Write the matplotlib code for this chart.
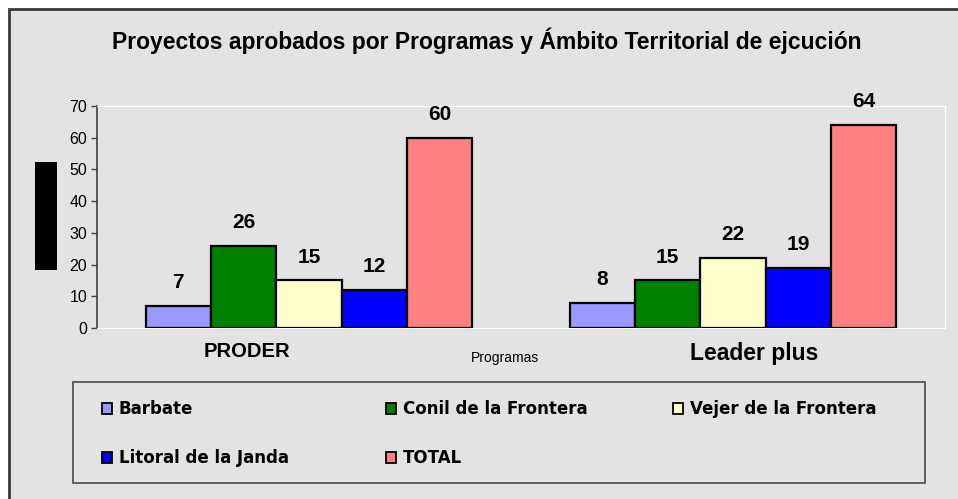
# Proyectos aprobados por Programas y Ámbito Territorial de ejecución
# barras agrupadas, estilo hoja de Excel antigua

import matplotlib
matplotlib.use("Agg")
import matplotlib.pyplot as plt
import matplotlib.transforms as mtransforms
from matplotlib.patches import Rectangle, Patch
import numpy as np

plt.rcParams['font.family'] = ['Liberation Sans', 'DejaVu Sans']

programas = ["PRODER", "Leader plus"]
ambitos = ["Barbate", "Conil de la Frontera", "Vejer de la Frontera",
           "Litoral de la Janda", "TOTAL"]
barbate = [7, 8]
conil = [26, 15]
vejer = [15, 22]
litoral = [12, 19]
total = [60, 64]
colores = ["#9999FF", "#008000", "#FFFFCC", "#0000FF", "#FF8080"]
yticks = [0, 10, 20, 30, 40, 50, 60, 70]

W, H = 958, 499
fig = plt.figure(figsize=(W / 100, H / 100), dpi=100, facecolor="white")

# fondo gris con borde oscuro (arriba/izquierda visibles)
bg = Rectangle((9 / W, -0.05), 1.1, 1 - 9 / H + 0.05, transform=fig.transFigure,
               facecolor="#e3e3e3", edgecolor="#3a3a3a", linewidth=2, zorder=-10)
fig.patches.append(bg)

ax = fig.add_axes([97 / W, 1 - 328 / H, (945 - 97) / W, (328 - 106) / H])
ax.set_facecolor("#e3e3e3")

series = [barbate, conil, vejer, litoral, total]
x = np.arange(len(programas))
width = 0.771 / 5
for i, (vals, col, name) in enumerate(zip(series, colores, ambitos)):
    pos = x - 0.771 / 2 + width * (i + 0.5)
    ax.bar(pos, vals, width, color=col, edgecolor="black", linewidth=1.6,
           label=name, zorder=3)
    for p, v in zip(pos, vals):
        ax.annotate(str(v), (p, v), xytext=(0, 10), textcoords="offset points",
                    ha="center", va="bottom", fontsize=15, fontweight="bold")

ax.set_xlim(-0.5, 1.5)
ax.set_ylim(0, 70)
ax.set_yticks(yticks)
ax.tick_params(axis="y", labelsize=11.5, length=4, width=1, color="#404040", pad=3)
ax.set_xticks(x)
ax.set_xticklabels(programas, fontweight="bold")
ax.tick_params(axis="x", length=0, pad=10)
offsets = [-0.62, 0.21]
sizes = [14.5, 16.5]
for lab, dx, fs in zip(ax.get_xticklabels(), offsets, sizes):
    lab.set_fontsize(fs)
    lab.set_transform(lab.get_transform() +
                      mtransforms.ScaledTranslation(dx, 0, fig.dpi_scale_trans))

ax.spines["left"].set_color("#404040")
ax.spines["left"].set_linewidth(1.2)
for s in ["top", "right", "bottom"]:
    ax.spines[s].set_color("white")
    ax.spines[s].set_linewidth(0.8)

fig.text(505 / W, 1 - 358 / H, "Programas", ha="center", va="center", fontsize=10)

fig.suptitle("Proyectos aprobados por Programas y Ámbito Territorial de ejcución",
             x=487 / W, y=1 - 41 / H, va="center", fontsize=16.5, fontweight="bold")

# rectangulo negro del titulo del eje y
fig.patches.append(Rectangle((35 / W, 1 - 270 / H), 22 / W, 108 / H,
                             transform=fig.transFigure, facecolor="black",
                             edgecolor="none"))

# caja de la leyenda
fig.patches.append(Rectangle((73 / W, 1 - 483 / H), (925 - 73) / W, (483 - 382) / H,
                             transform=fig.transFigure, facecolor="none",
                             edgecolor="#555555", linewidth=1.3))

# una leyenda por columna para fijar las posiciones
columnas = [[0, 3], [1, 4], [2]]
xcol = [94, 378, 665]
for idx, xc in zip(columnas, xcol):
    handles = [Patch(facecolor=colores[i], edgecolor="black", linewidth=1.3) for i in idx]
    labels = [ambitos[i] for i in idx]
    leg = fig.legend(handles, labels, ncol=1, frameon=False, loc="upper left",
                     bbox_to_anchor=(xc / W, 1 - 392 / H),
                     prop={'family': 'DejaVu Sans', 'weight': 'bold', 'size': 12},
                     handlelength=0.6, handleheight=0.6, handletextpad=0.4,
                     labelspacing=1.85, borderpad=0)

fig.savefig("out.png", dpi=100, facecolor="white")
